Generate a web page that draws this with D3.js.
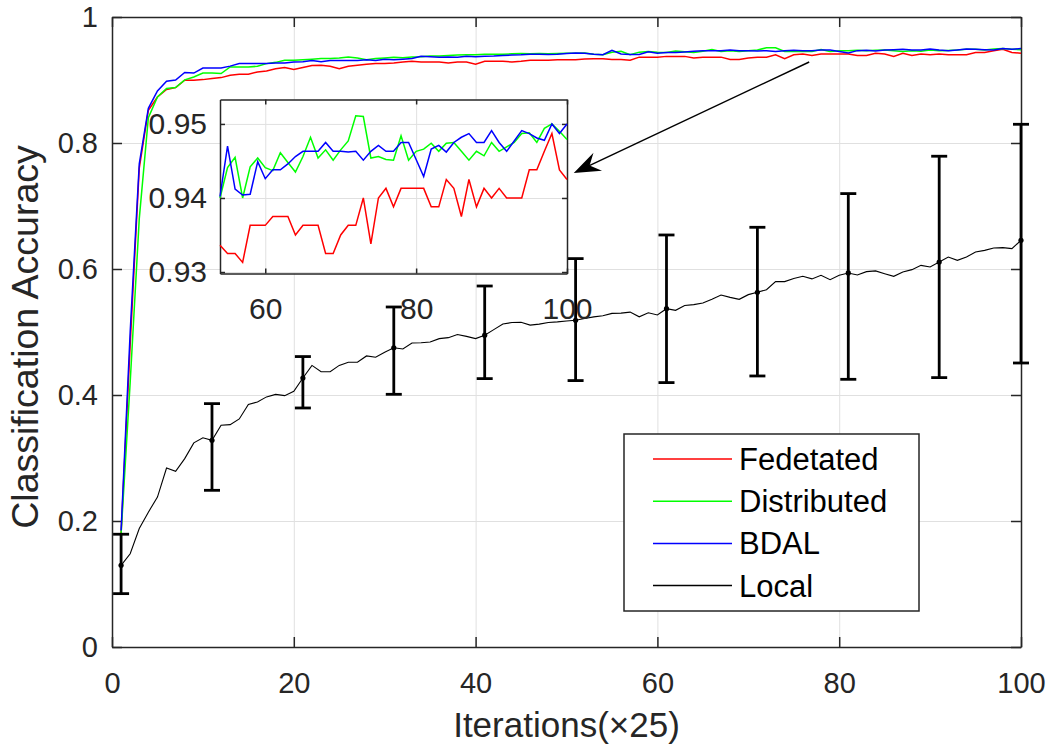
<!DOCTYPE html>
<meta charset="utf-8">
<script src="https://d3js.org/d3.v7.min.js"></script>
<body>
    <div id="viz"></div>
</body>
<style>
    body { margin: 0; background: #fff; }
    text { font-family: "Liberation Sans", Arial, sans-serif; }
</style>
<script>
    // iterations 1..100 (x25)
    let iters = [];
    for (let i = 1; i <= 100; i++) iters.push(i);

    let fedetated = [
        0.18, 0.48, 0.76, 0.852, 0.873, 0.885, 0.888, 0.8996, 0.8996, 0.9006,
        0.9022, 0.9038, 0.9075, 0.909, 0.909, 0.9128, 0.9144, 0.918, 0.9197, 0.9165,
        0.9197, 0.923, 0.9234, 0.9218, 0.918, 0.9218, 0.9234, 0.925, 0.926, 0.926,
        0.9271, 0.9287, 0.9297, 0.9287, 0.9287, 0.9287, 0.9271, 0.9287, 0.9287, 0.925,
        0.9297, 0.9297, 0.9297, 0.9287, 0.9297, 0.9313, 0.9313, 0.9313, 0.9323, 0.9323,
        0.9323, 0.9333, 0.9336, 0.9336, 0.9325, 0.9325, 0.9313, 0.9363, 0.9363, 0.9363,
        0.9375, 0.9375, 0.9375, 0.935, 0.9363, 0.9363, 0.9363, 0.9325, 0.9325, 0.935,
        0.9363, 0.9363, 0.94, 0.9338, 0.94, 0.9413, 0.9388, 0.9413, 0.9413, 0.9413,
        0.9413, 0.9388, 0.9388, 0.9425, 0.9413, 0.9375, 0.9425, 0.9388, 0.9413, 0.94,
        0.9413, 0.94, 0.94, 0.94, 0.9438, 0.9438, 0.9463, 0.9487, 0.9438, 0.9425];

    let distributed = [
        0.18, 0.42, 0.68, 0.84, 0.8731, 0.8864, 0.888, 0.9003, 0.9048, 0.9112,
        0.911, 0.9102, 0.9207, 0.9207, 0.9207, 0.9218, 0.926, 0.928, 0.9313, 0.9313,
        0.9323, 0.933, 0.934, 0.934, 0.935, 0.9365, 0.935, 0.9323, 0.934, 0.935,
        0.936, 0.9355, 0.9365, 0.937, 0.938, 0.938, 0.939, 0.9395, 0.94, 0.94,
        0.941, 0.941, 0.941, 0.9415, 0.942, 0.9415, 0.942, 0.9415, 0.942, 0.9425,
        0.9425, 0.943, 0.941, 0.94, 0.9441, 0.9455, 0.94, 0.9442, 0.9454, 0.9441,
        0.9437, 0.9461, 0.9448, 0.9435, 0.9456, 0.9482, 0.9454, 0.9465, 0.9451, 0.9465,
        0.9477, 0.9511, 0.951, 0.9454, 0.9456, 0.9452, 0.9451, 0.9484, 0.9451, 0.9463,
        0.9466, 0.9474, 0.9463, 0.9474, 0.9475, 0.9463, 0.9451, 0.9463, 0.9457, 0.9475,
        0.9463, 0.9469, 0.9475, 0.9487, 0.9488, 0.9475, 0.9494, 0.95, 0.949, 0.9479];

    let bdal = [
        0.185, 0.5, 0.767, 0.855, 0.8826, 0.898, 0.9, 0.912, 0.911, 0.919,
        0.919, 0.919, 0.922, 0.926, 0.926, 0.926, 0.926, 0.927, 0.927, 0.9286,
        0.929, 0.931, 0.929, 0.931, 0.931, 0.931, 0.931, 0.932, 0.931, 0.933,
        0.932, 0.933, 0.934, 0.9376, 0.937, 0.936, 0.9365, 0.936, 0.9376, 0.937,
        0.9376, 0.938, 0.939, 0.9395, 0.94, 0.941, 0.941, 0.9405, 0.941, 0.942,
        0.943, 0.9425, 0.941, 0.9402, 0.947, 0.9412, 0.9404, 0.9405, 0.9449, 0.9426,
        0.9438, 0.9438, 0.9446, 0.9456, 0.9463, 0.9463, 0.9463, 0.9475, 0.9463, 0.9463,
        0.9462, 0.9463, 0.9451, 0.9463, 0.9471, 0.9463, 0.9463, 0.9475, 0.9475, 0.9452,
        0.9429, 0.9466, 0.9471, 0.9462, 0.9475, 0.9482, 0.9487, 0.9475, 0.9475, 0.9491,
        0.9475, 0.9463, 0.9477, 0.9491, 0.9487, 0.9481, 0.9478, 0.95, 0.9487, 0.95];

    let local = [
        0.1297, 0.148, 0.188, 0.214, 0.238, 0.284, 0.279, 0.299, 0.324, 0.332,
        0.328, 0.352, 0.353, 0.362, 0.385, 0.389, 0.397, 0.401, 0.399, 0.406,
        0.427, 0.447, 0.437, 0.437, 0.447, 0.452, 0.452, 0.462, 0.46, 0.468,
        0.475, 0.473, 0.4826, 0.483, 0.484, 0.4895, 0.491, 0.496, 0.493, 0.4895,
        0.495, 0.5038, 0.5128, 0.515, 0.5155, 0.511, 0.5125, 0.515, 0.516, 0.5175,
        0.5186, 0.5214, 0.524, 0.5257, 0.5295, 0.53, 0.5316, 0.5241, 0.5305, 0.527,
        0.537, 0.5344, 0.542, 0.5435, 0.546, 0.552, 0.5587, 0.555, 0.5519, 0.5593,
        0.563, 0.5672, 0.58, 0.58, 0.585, 0.5885, 0.5843, 0.59, 0.5831, 0.59,
        0.5937, 0.5905, 0.5958, 0.597, 0.5926, 0.5884, 0.5952, 0.599, 0.6058, 0.6032,
        0.611, 0.619, 0.6137, 0.619, 0.627, 0.6296, 0.6333, 0.634, 0.6323, 0.6456];

    // error bars of Local
    let errIters = [1, 11, 21, 31, 41, 51, 61, 71, 81, 91, 100];
    let errUpper = [0.179, 0.3863, 0.461, 0.5397, 0.573, 0.6165, 0.654, 0.6662, 0.7197, 0.779, 0.8297];
    let errLower = [0.0847, 0.2487, 0.3794, 0.4011, 0.426, 0.4229, 0.4197, 0.4302, 0.4249, 0.4276, 0.4508];

    let seriesNames = ["Fedetated", "Distributed", "BDAL", "Local"];
    let seriesColors = ["#ff0000", "#00ff00", "#0000ff", "#000000"];

    let xTicks = [0, 20, 40, 60, 80, 100];
    let yTicks = [0, 0.2, 0.4, 0.6, 0.8, 1];
    let insetXTicks = [60, 80, 100];
    let insetYTicks = [0.93, 0.94, 0.95];

    // arrow annotation, in data units of the main axes
    let arrowFrom = [76.7, 0.9286], arrowTo = [50.8, 0.7524];

    let W = 1058, H = 749;
    let axisColor = "#262626", gridColor = "#e0e0e0";

    let svg = d3.select("#viz").append("svg")
        .attr("width", W).attr("height", H);

    let x = d3.scaleLinear().domain([0, 100]).range([112, 1021]);
    let y = d3.scaleLinear().domain([0, 1]).range([647, 17]);

    let series = [fedetated, distributed, bdal, local].map((vals, k) => ({
        name: seriesNames[k], color: seriesColors[k],
        points: vals.map((v, i) => [iters[i], v])
    }));

    function styleAxis(g, fontSize) {
        g.select(".domain").attr("stroke", axisColor).attr("stroke-width", 1.5);
        g.selectAll(".tick line").attr("stroke", axisColor).attr("stroke-width", 1.5);
        g.selectAll(".tick text").attr("fill", axisColor)
            .style("font-size", fontSize + "px")
            .style("font-family", '"Liberation Sans", Arial, sans-serif');
    }

    function drawAxes(g, xs, ys, xt, yt, tickLen, xFmt, yFmt, fontSize, xPad, yPad) {
        let [x0, x1] = xs.range(), [y0, y1] = ys.range();
        // grid
        g.append("g").attr("transform", `translate(0,${y0})`)
            .call(d3.axisBottom(xs).tickValues(xt).tickSize(-(y0 - y1)).tickFormat(""))
            .call(a => a.select(".domain").remove())
            .selectAll("line").attr("stroke", gridColor).attr("stroke-width", 1);
        g.append("g").attr("transform", `translate(${x0},0)`)
            .call(d3.axisLeft(ys).tickValues(yt).tickSize(-(x1 - x0)).tickFormat(""))
            .call(a => a.select(".domain").remove())
            .selectAll("line").attr("stroke", gridColor).attr("stroke-width", 1);
        // box with inward ticks
        g.append("g").attr("transform", `translate(0,${y0})`)
            .call(d3.axisBottom(xs).tickValues(xt).tickSize(-tickLen).tickSizeOuter(0)
                .tickPadding(xPad).tickFormat(xFmt))
            .call(a => styleAxis(a, fontSize));
        g.append("g").attr("transform", `translate(0,${y1})`)
            .call(d3.axisTop(xs).tickValues(xt).tickSize(-tickLen).tickSizeOuter(0).tickFormat(""))
            .call(a => styleAxis(a, fontSize));
        g.append("g").attr("transform", `translate(${x0},0)`)
            .call(d3.axisLeft(ys).tickValues(yt).tickSize(-tickLen).tickSizeOuter(0)
                .tickPadding(yPad).tickFormat(yFmt))
            .call(a => styleAxis(a, fontSize));
        g.append("g").attr("transform", `translate(${x1},0)`)
            .call(d3.axisRight(ys).tickValues(yt).tickSize(-tickLen).tickSizeOuter(0).tickFormat(""))
            .call(a => styleAxis(a, fontSize));
    }

    // ---- main axes ----
    let main = svg.append("g");
    drawAxes(main, x, y, xTicks, yTicks, 10, d3.format("d"), d => d3.format("")(d), 29, 25, 14);

    let line = d3.line().x(d => x(d[0])).y(d => y(d[1]));

    main.selectAll(".series")
        .data(series.slice(0, 3))
        .enter().append("path")
            .attr("d", d => line(d.points))
            .attr("fill", "none")
            .attr("stroke", d => d.color)
            .attr("stroke-width", 1.5);

    main.append("path")
        .attr("d", line(series[3].points))
        .attr("fill", "none")
        .attr("stroke", "#000")
        .attr("stroke-width", 1.1);

    // error bars
    let errData = errIters.map((it, i) => ({ it: it, m: local[it - 1], hi: errUpper[i], lo: errLower[i] }));
    let eb = main.append("g").attr("stroke", "#000").attr("stroke-width", 2.8);
    eb.selectAll(".v").data(errData).enter().append("line")
        .attr("x1", d => x(d.it)).attr("x2", d => x(d.it))
        .attr("y1", d => y(d.hi)).attr("y2", d => y(d.lo));
    eb.selectAll(".cu").data(errData).enter().append("line")
        .attr("x1", d => x(d.it) - 8).attr("x2", d => x(d.it) + 8)
        .attr("y1", d => y(d.hi)).attr("y2", d => y(d.hi));
    eb.selectAll(".cl").data(errData).enter().append("line")
        .attr("x1", d => x(d.it) - 8).attr("x2", d => x(d.it) + 8)
        .attr("y1", d => y(d.lo)).attr("y2", d => y(d.lo));
    main.selectAll(".dot").data(errData).enter().append("circle")
        .attr("cx", d => x(d.it)).attr("cy", d => y(d.m)).attr("r", 2.6).attr("fill", "#000");

    // axis labels
    svg.append("text")
        .attr("x", (x.range()[0] + x.range()[1]) / 2).attr("y", 737)
        .attr("text-anchor", "middle").attr("fill", axisColor)
        .style("font-size", "35px")
        .text("Iterations(×25)");
    svg.append("text")
        .attr("transform", "translate(38,337) rotate(-90)")
        .attr("text-anchor", "middle").attr("fill", axisColor)
        .style("font-size", "37.5px")
        .text("Classification Accuracy");

    // ---- inset ----
    let xi = d3.scaleLinear().domain([54, 100]).range([220, 567]);
    let yi = d3.scaleLinear().domain([0.9298, 0.9533]).range([273.5, 99.5]);
    let inset = svg.append("g");
    inset.append("rect")
        .attr("x", xi.range()[0]).attr("y", yi.range()[1])
        .attr("width", xi.range()[1] - xi.range()[0])
        .attr("height", yi.range()[0] - yi.range()[1])
        .attr("fill", "#fff");
    drawAxes(inset, xi, yi, insetXTicks, insetYTicks, 5, d3.format("d"), d3.format(".2f"), 30, 24, 13);

    let lineI = d3.line().x(d => xi(d[0])).y(d => yi(d[1]));
    inset.selectAll(".iseries")
        .data(series.slice(0, 3))
        .enter().append("path")
            .attr("d", d => lineI(d.points.filter(p => p[0] >= 54)))
            .attr("fill", "none")
            .attr("stroke", d => d.color)
            .attr("stroke-width", 1.5);

    // ---- arrow ----
    let ax0 = x(arrowFrom[0]), ay0 = y(arrowFrom[1]);
    let ax1 = x(arrowTo[0]), ay1 = y(arrowTo[1]);
    let ang = Math.atan2(ay1 - ay0, ax1 - ax0) * 180 / Math.PI;
    let len = Math.hypot(ax1 - ax0, ay1 - ay0);
    let arrow = svg.append("g")
        .attr("transform", `translate(${ax0},${ay0}) rotate(${ang})`);
    arrow.append("line")
        .attr("x1", 0).attr("y1", 0).attr("x2", len - 16).attr("y2", 0)
        .attr("stroke", "#000").attr("stroke-width", 1.5);
    arrow.append("path")
        .attr("d", `M${len},0 L${len - 26.5},-10 L${len - 17.5},0 L${len - 26.5},10 Z`)
        .attr("fill", "#000");

    // ---- legend ----
    let legend = svg.append("g").attr("transform", "translate(624,434)");
    legend.append("rect")
        .attr("width", 295).attr("height", 177)
        .attr("fill", "#fff").attr("stroke", axisColor).attr("stroke-width", 1.5);
    let items = legend.selectAll(".item").data(series).enter().append("g")
        .attr("transform", (d, i) => `translate(0,${25 + i * 42.2})`);
    items.append("line")
        .attr("x1", 29).attr("x2", 108)
        .attr("stroke", d => d.color).attr("stroke-width", 1.5);
    items.append("text")
        .attr("x", 115).attr("y", 11)
        .attr("fill", "#000")
        .style("font-size", "31px")
        .text(d => d.name);
</script>
